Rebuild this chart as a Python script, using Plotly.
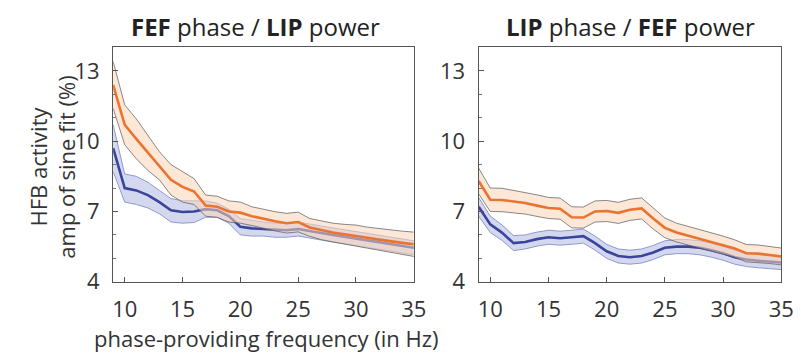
import plotly.graph_objects as go

# ---- data ----
freq = list(range(9, 36))

# Left panel: FEF phase / LIP power
left_orange_mean = [12.4, 10.7, 10.1, 9.5, 8.95, 8.35, 8.05, 7.85, 7.25, 7.2, 7.0, 6.95, 6.8, 6.68,
                    6.58, 6.5, 6.55, 6.32, 6.2, 6.1, 6.03, 5.97, 5.88, 5.8, 5.72, 5.66, 5.6]
left_orange_err = [1.0, 0.85, 0.85, 0.75, 0.6, 0.65, 0.65, 0.55, 0.45, 0.45, 0.45, 0.45, 0.4, 0.41,
                   0.41, 0.42, 0.42, 0.38, 0.4, 0.4, 0.42, 0.45, 0.45, 0.47, 0.48, 0.5, 0.52]
left_blue_mean = [9.7, 8.0, 7.9, 7.7, 7.4, 7.05, 6.98, 7.0, 7.1, 7.05, 6.8, 6.35, 6.28, 6.25,
                  6.2, 6.2, 6.25, 6.15, 6.08, 6.0, 5.92, 5.85, 5.77, 5.68, 5.6, 5.52, 5.45]
left_blue_err = [1.0, 0.6, 0.6, 0.55, 0.5, 0.5, 0.48, 0.47, 0.35, 0.3, 0.3, 0.35, 0.33, 0.3,
                 0.3, 0.3, 0.3, 0.3, 0.3, 0.3, 0.3, 0.3, 0.3, 0.3, 0.3, 0.3, 0.3]

# Right panel: LIP phase / FEF power
right_orange_mean = [8.3, 7.5, 7.49, 7.42, 7.36, 7.25, 7.15, 7.12, 6.75, 6.74, 7.0, 7.02, 6.94, 7.07,
                     7.13, 6.7, 6.3, 6.1, 5.97, 5.82, 5.7, 5.57, 5.42, 5.22, 5.2, 5.14, 5.08]
right_orange_err = [0.55, 0.5, 0.5, 0.48, 0.47, 0.46, 0.45, 0.45, 0.45, 0.45, 0.45, 0.45, 0.45, 0.45,
                    0.45, 0.45, 0.42, 0.4, 0.4, 0.4, 0.38, 0.38, 0.37, 0.37, 0.37, 0.36, 0.36]
right_blue_mean = [7.2, 6.45, 6.1, 5.65, 5.7, 5.82, 5.9, 5.86, 5.9, 5.95, 5.65, 5.3, 5.1, 5.05,
                   5.1, 5.25, 5.45, 5.5, 5.5, 5.45, 5.35, 5.22, 5.05, 4.95, 4.9, 4.86, 4.82]
right_blue_err = [0.4, 0.35, 0.33, 0.32, 0.3, 0.3, 0.3, 0.3, 0.3, 0.3, 0.3, 0.3, 0.3, 0.3,
                  0.3, 0.3, 0.3, 0.3, 0.3, 0.3, 0.3, 0.3, 0.3, 0.3, 0.3, 0.3, 0.3]

x_ticks = [10, 15, 20, 25, 30, 35]
y_ticks = [4, 7, 10, 13]
titles = ["<b>FEF</b> phase / <b>LIP</b> power", "<b>LIP</b> phase / <b>FEF</b> power"]
ylabel_lines = ["HFB activity", "amp of sine fit (%)"]
xlabel = "phase-providing frequency (in Hz)"

# ---- style ----
FONT = "Open Sans"
ORANGE = "#EA7330"
ORANGE_FILL = "rgba(252,214,184,0.55)"
ORANGE_EDGE = "rgba(90,90,90,0.9)"
BLUE = "#3A449C"
BLUE_FILL = "rgba(160,168,220,0.45)"
BLUE_EDGE = "rgba(110,120,190,0.9)"
W, H = 801, 356

fig = go.Figure()


def add_band(xref, yref, mean, err, fill, edge, line_color):
    up = [m + e for m, e in zip(mean, err)]
    lo = [m - e for m, e in zip(mean, err)]
    fig.add_trace(go.Scatter(x=freq + freq[::-1], y=up + lo[::-1], fill="toself",
                             fillcolor=fill, line=dict(width=0), mode="lines",
                             hoverinfo="skip", showlegend=False, xaxis=xref, yaxis=yref))
    for b in (up, lo):
        fig.add_trace(go.Scatter(x=freq, y=b, mode="lines", line=dict(color=edge, width=0.8),
                                 showlegend=False, xaxis=xref, yaxis=yref))
    fig.add_trace(go.Scatter(x=freq, y=mean, mode="lines", line=dict(color=line_color, width=2.6),
                             showlegend=False, xaxis=xref, yaxis=yref))


add_band("x", "y", left_blue_mean, left_blue_err, BLUE_FILL, BLUE_EDGE, BLUE)
add_band("x", "y", left_orange_mean, left_orange_err, ORANGE_FILL, ORANGE_EDGE, ORANGE)
add_band("x2", "y2", right_blue_mean, right_blue_err, BLUE_FILL, BLUE_EDGE, BLUE)
add_band("x2", "y2", right_orange_mean, right_orange_err, ORANGE_FILL, ORANGE_EDGE, ORANGE)

ydom = [(356 - 285) / H, (356 - 41) / H]
xdom1 = [106 / W, 412 / W]
xdom2 = [478 / W, 786 / W]

axis_common = dict(showgrid=False, zeroline=False, showline=True, linecolor="#555",
                   linewidth=1.2, mirror=True, ticks="inside", ticklen=5, tickcolor="#555",
                   tickfont=dict(family=FONT, size=22, color="#333"))

xa = dict(axis_common, range=[9, 35], tickvals=x_ticks, ticklabelstandoff=8)
ya = dict(axis_common, range=[4, 14], tickvals=y_ticks, ticklabelstandoff=8,
          minor=dict(dtick=1, ticks="inside", ticklen=3, tickcolor="#777"))

fig.update_layout(
    width=W, height=H, margin=dict(l=0, r=0, t=0, b=0),
    paper_bgcolor="white", plot_bgcolor="white",
    xaxis=dict(xa, domain=xdom1, anchor="y"),
    yaxis=dict(ya, domain=ydom, anchor="x"),
    xaxis2=dict(xa, domain=xdom2, anchor="y2"),
    yaxis2=dict(ya, domain=ydom, anchor="x2"),
)

ann = []
for t, cx in zip(titles, (251, 633)):
    ann.append(dict(text=t, x=cx / W, y=1 - 19 / H, xref="paper", yref="paper",
                    showarrow=False, xanchor="center", yanchor="middle",
                    font=dict(family=FONT, size=24, color="#222")))
ann.append(dict(text="<br>".join(ylabel_lines), x=44 / W, y=1 - 166 / H, xref="paper",
                yref="paper", textangle=-90, showarrow=False, xanchor="center",
                yanchor="middle", align="center",
                font=dict(family=FONT, size=22, color="#333")))
ann.append(dict(text=xlabel, x=262 / W, y=1 - 344 / H, xref="paper", yref="paper",
                showarrow=False, xanchor="center", yanchor="middle",
                font=dict(family=FONT, size=22, color="#333")))
fig.update_layout(annotations=ann)

fig.write_html("out.html")
